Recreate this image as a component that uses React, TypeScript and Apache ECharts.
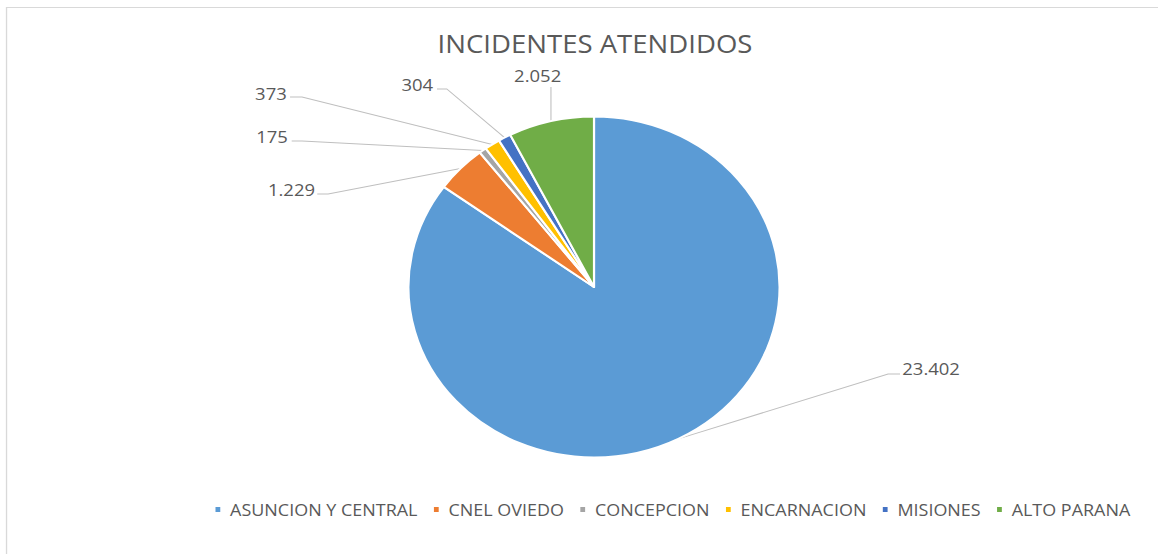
import React, { useEffect, useRef } from 'react';
import * as echarts from 'echarts';

// ---- data ----
const categories = ['ASUNCION Y CENTRAL', 'CNEL OVIEDO', 'CONCEPCION', 'ENCARNACION', 'MISIONES', 'ALTO PARANA'];
const values = [23402, 1229, 175, 373, 304, 2052];
const chartTitle = 'INCIDENTES ATENDIDOS';

// ---- styles ----
const colors = ['#5B9BD5', '#ED7D31', '#A5A5A5', '#FFC000', '#4472C4', '#70AD47'];
const PAGE_W = 1158;
const PAGE_H = 554;
const CHART_W = 1064;
const SX = PAGE_W / CHART_W; // horizontal stretch of the whole picture

// label anchors and leader-line bends (chart space)
const labelSpots: any[] = [
  { x: 829, y: 368, align: 'left', mid: [816, 374], end: [827, 374] },
  { x: 289.5, y: 189, align: 'right', mid: [301.5, 194], end: [291.5, 194] },
  { x: 264.5, y: 136, align: 'right', mid: [277.5, 141], end: [268, 141] },
  { x: 263.5, y: 93, align: 'right', mid: [277.5, 97], end: [266.5, 97] },
  { x: 398, y: 84, align: 'right', mid: [410.5, 89], end: [401.5, 89] },
  { x: 494, y: 75, align: 'center', vertical: 87 },
];

const fmt = (v: number) => String(v).replace(/\B(?=(\d{3})+(?!\d))/g, '.');

export default function App() {
  const ref = useRef<HTMLDivElement>(null);
  useEffect(() => {
    if (!ref.current) return;
    const chart = echarts.init(ref.current, null, { renderer: 'svg' });
    const font = '"Open Sans", "Noto Sans", sans-serif';
    chart.setOption({
      animation: false,
      backgroundColor: '#ffffff',
      color: colors,
      title: {
        text: chartTitle,
        left: 397,
        top: 26,
        textStyle: { fontFamily: font, fontSize: 25.3, fontWeight: 'normal', color: '#595959' },
      },
      legend: {
        data: categories,
        left: 191,
        top: 496,
        icon: 'rect',
        itemWidth: 6.4,
        itemHeight: 7,
        itemGap: 13,
        textStyle: { fontFamily: font, fontSize: 16.5, color: '#595959', padding: [0, 0, 0, 3] },
      },
      graphic: [
        {
          type: 'rect',
          silent: true,
          shape: { x: 6, y: 7.5, width: 2000, height: 1000 },
          style: { fill: 'none', stroke: '#D9D9D9', lineWidth: 1.2 },
        },
      ],
      series: [
        {
          type: 'pie',
          center: [594 / SX, 287],
          radius: 170.5,
          startAngle: 90,
          clockwise: true,
          avoidLabelOverlap: false,
          minShowLabelAngle: 0,
          data: categories.map((name, i) => ({ name, value: values[i] })),
          itemStyle: { borderColor: '#ffffff', borderWidth: 2 },
          label: {
            show: true,
            position: 'outside',
            formatter: (p: any) => fmt(p.value),
            fontFamily: font,
            fontSize: 17,
            color: '#595959',
          },
          labelLine: {
            show: true,
            length: 10,
            length2: 10,
            lineStyle: { color: '#BFBFBF', width: 1 },
          },
          emphasis: { disabled: true },
          labelLayout: (params: any) => {
            const s = labelSpots[params.dataIndex];
            const start = params.labelLinePoints ? params.labelLinePoints[0] : [0, 0];
            let pts;
            if (s.vertical != null) {
              pts = [start, [start[0], s.vertical], [start[0], s.vertical]];
            } else {
              pts = [start, s.mid, s.end];
            }
            return {
              x: s.x,
              y: s.y,
              align: s.align,
              verticalAlign: 'middle',
              labelLinePoints: pts,
            };
          },
        },
      ],
    });
    return () => chart.dispose();
  }, []);

  return (
    <div
      style={{
        position: 'fixed',
        left: 0,
        top: 0,
        width: PAGE_W,
        height: PAGE_H,
        overflow: 'hidden',
        background: '#ffffff',
      }}
    >
      <div
        ref={ref}
        style={{
          width: CHART_W,
          height: PAGE_H,
          transform: `scaleX(${SX})`,
          transformOrigin: '0 0',
        }}
      />
    </div>
  );
}
